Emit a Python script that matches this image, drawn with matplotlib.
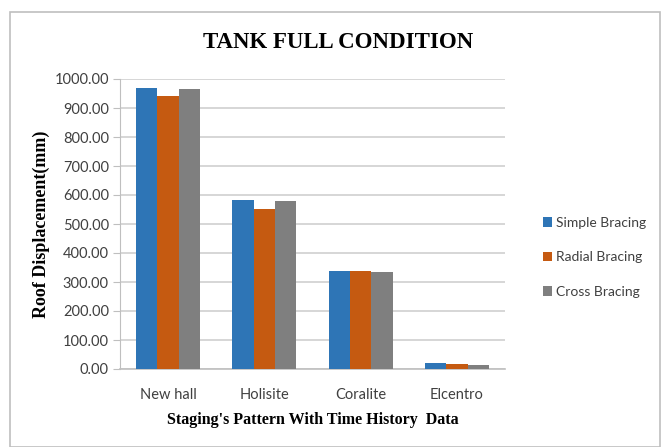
import matplotlib
matplotlib.use("Agg")
import matplotlib.pyplot as plt
import numpy as np
from matplotlib.patches import Rectangle

categories = ["New hall", "Holisite", "Coralite", "Elcentro"]
simple = [969, 583, 339, 19]
radial = [942, 552, 337, 16]
cross = [965, 580, 334, 15]
series_names = ["Simple Bracing", "Radial Bracing", "Cross Bracing"]
colors = ["#2E75B6", "#C55A11", "#7F7F7F"]
yticks = np.arange(0, 1001, 100)

fig = plt.figure(figsize=(6.68, 4.47), dpi=100)
fig.patch.set_facecolor("white")
fig.add_artist(Rectangle((10/668, 0), 650/668, 1 - 12/447, transform=fig.transFigure,
                         fill=False, edgecolor="#BFBFBF", linewidth=1.2))

ax = fig.add_axes([120/668, 1 - 369/447, 385/668, 290/447])
x = np.arange(len(categories))
w = 0.222
for i, (vals, name, c) in enumerate(zip([simple, radial, cross], series_names, colors)):
    ax.bar(x + (i - 1) * w, vals, width=w, color=c, label=name, zorder=3)

ax.set_xlim(-0.5, 3.5)
ax.set_ylim(0, 1000)
ax.set_yticks(yticks)
ax.set_yticklabels([f"{v:.2f}" for v in yticks], fontsize=10.5, family="Lato", color="#404040")
ax.set_xticks(x)
ax.set_xticklabels(categories, fontsize=10.5, family="Lato", color="#404040")
ax.yaxis.grid(True, color="#D0D0D0", linewidth=1.2, zorder=0)
ax.set_axisbelow(True)
for s in ["top", "right"]:
    ax.spines[s].set_visible(False)
ax.spines["left"].set_color("#BFBFBF")
ax.spines["bottom"].set_color("#BFBFBF")
ax.spines["bottom"].set_linewidth(1.2)
ax.tick_params(axis="y", length=5, color="#BFBFBF", pad=3)
ax.tick_params(axis="x", length=0, pad=14)

ax.set_ylabel("Roof Displacement(mm)", fontsize=13, family="Liberation Serif",
              fontweight="bold", labelpad=3)
ax.set_xlabel("Staging's Pattern With Time History  Data", fontsize=11.5,
              family="Liberation Serif", fontweight="bold", labelpad=7)
fig.text(338/668, 1 - 42/447, "TANK FULL CONDITION", ha="center", va="center",
         fontsize=16.5, family="Liberation Serif", fontweight="bold")

leg = ax.legend(loc="center left", bbox_to_anchor=(1.065, 0.385), frameon=False,
                prop={"family": "Lato", "size": 10}, handlelength=0.7, handleheight=0.7,
                handletextpad=0.3, labelspacing=1.6)
for t in leg.get_texts():
    t.set_color("#404040")

fig.savefig("out.png", dpi=100)
